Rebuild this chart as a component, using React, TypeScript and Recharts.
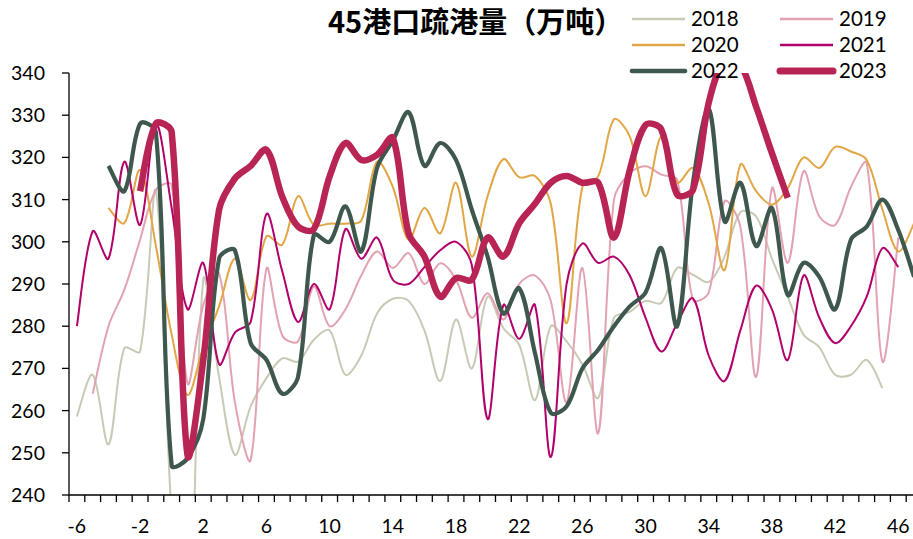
import { LineChart, Line, XAxis, YAxis } from "recharts";

// weeks relative to the holiday, category axis of the original chart
const weeks = [
  -6, -5, -4, -3, -2, -1, 0, 1, 2, 3, 4, 5, 6, 7, 8, 9, 10, 11, 12, 13, 14, 15, 16, 17, 18, 19, 20,
  21, 22, 23, 24, 25, 26, 27, 28, 29, 30, 31, 32, 33, 34, 35, 36, 37, 38, 39, 40, 41, 42, 43, 44, 45, 46, 47,
];
const xTickLabels = [-6, -2, 2, 6, 10, 14, 18, 22, 26, 30, 34, 38, 42, 46];
const yTicks = [240, 250, 260, 270, 280, 290, 300, 310, 320, 330, 340];

const start2018 = -6;
const values2018 = [
  258.6, 268.5, 252, 274.8, 274, 312, 235, 200, 291, 268, 249.5, 261, 267.7, 272.4, 271.6, 276.8, 279,
  268.5, 273, 283, 286.5, 286, 279, 267, 281.6, 270, 287, 279.5, 275.6, 262.5, 280, 276.4, 271, 263, 282,
  283.4, 286, 285.5, 293.8, 292.2, 290.5, 296.5, 307, 306, 296, 287, 278, 275, 268.5, 268.5, 272, 265.3,
];
const start2019 = -5;
const values2019 = [
  264, 280, 288.6, 300.5, 312.3, 313.5, 266.5, 285, 292.5, 262, 248.3, 293.6, 277.8, 276.4, 289.4, 280,
  284, 292, 297.7, 293.8, 297.3, 290, 294.9, 291, 282, 287.8, 281.6, 290, 292, 286, 262, 293.8, 254.6, 310,
  316.3, 317.9, 315.9, 314.7, 286.2, 288, 309.6, 303.6, 268, 312.7, 295, 316.7, 306, 304, 313, 318.7,
  271.6, 301,
];
const start2020 = -4;
const values2020 = [
  308, 304.4, 317, 299, 278, 263.7, 275, 284.7, 296, 286.2, 301.3, 299.3, 310.8, 304, 304.3, 304.3, 305,
  319, 313, 300.5, 308, 302, 314, 296.5, 310.8, 319.6, 315.3, 315.6, 309, 280.7, 313, 315.5, 329, 325,
  310.8, 325, 314, 317.5, 309, 293.3, 318.3, 312, 308.8, 312.7, 320, 317.5, 322.5, 321.4, 319.4, 307.6,
  297.7, 304.4,
];
const start2021 = -6;
const values2021 = [
  280, 302.5, 296, 319, 304, 328, 308, 284, 295, 271, 278.5, 281, 306.6, 293, 281, 290, 284, 303, 296,
  301, 291, 290, 294, 298, 300, 294.5, 258, 285, 277, 285, 249, 290, 299.6, 295, 296.5, 292, 282, 274,
  280.7, 286.6, 273, 267, 279, 289.6, 284, 272, 292, 282, 276, 280, 287, 298.5, 294,
];
const start2022 = -4;
const values2022 = [
  318, 312, 328, 326, 247, 248.7, 258, 296, 298, 276, 272, 264, 268, 301.6, 300, 308.4, 297.7, 317.5,
  324, 330.7, 318, 323.4, 319.4, 307.6, 296.5, 283, 289, 273.6, 259.5, 261, 270, 274.4, 280, 284.7, 288,
  298.5, 280, 314, 331.5, 304.8, 314, 299, 308, 287.4, 295, 291.7, 284, 300.5, 303.6, 310, 302.8, 291.7,
];
const start2023 = -2;
const values2023 = [
  312, 328, 326, 249.5, 272, 307.6, 315, 318, 321.8, 310.7, 303.6, 303, 315.5, 323.4, 319.4, 320.6,
  324.6, 302, 296.5, 287, 291.4, 291, 301, 296.5, 304.4, 309, 314, 315.6, 314, 314, 301, 317, 327.7,
  326.6, 311.2, 312.3, 333, 343, 342, 332, 321, 310.4,
];

const series = [
  { key: "y2018", name: "2018", start: start2018, values: values2018, color: "#C9C9B6", width: 2 },
  { key: "y2019", name: "2019", start: start2019, values: values2019, color: "#E2A2B2", width: 2 },
  { key: "y2020", name: "2020", start: start2020, values: values2020, color: "#E2A646", width: 2 },
  { key: "y2021", name: "2021", start: start2021, values: values2021, color: "#B1006B", width: 2 },
  { key: "y2022", name: "2022", start: start2022, values: values2022, color: "#3F584D", width: 4.2 },
  { key: "y2023", name: "2023", start: start2023, values: values2023, color: "#B82453", width: 6.5 },
];

const rows = weeks.map((w) => {
  const row: Record<string, number | null> = { week: w };
  series.forEach((s) => {
    const v = s.values[w - s.start];
    row[s.key] = v === undefined ? null : v;
  });
  return row;
});

// tick marks sit between categories, labels on the category itself
const boundaries = weeks.map((w) => w - 0.5).concat(weeks[weeks.length - 1] + 0.5);

const FONT = "Lato, 'Noto Sans', sans-serif";

// Excel-like smoothing: tangent through neighbours, arm lengths split by chord length
function smoothCurve(context: any) {
  let pts: number[][] = [];
  const dist = (a: number[], b: number[]) => Math.hypot(b[0] - a[0], b[1] - a[1]) || 1e-6;
  return {
    areaStart() {},
    areaEnd() {},
    lineStart() {
      pts = [];
    },
    lineEnd() {
      const n = pts.length;
      if (!n) return;
      context.moveTo(pts[0][0], pts[0][1]);
      if (n === 1) return;
      // forward/backward arm vectors for each point
      const fwd: number[][] = [];
      const back: number[][] = [];
      for (let i = 0; i < n; i++) {
        if (i === 0 || i === n - 1) {
          const a = pts[Math.max(i - 1, 0)];
          const b = pts[Math.min(i + 1, n - 1)];
          const v = [(b[0] - a[0]) / 6, (b[1] - a[1]) / 6];
          fwd.push(v);
          back.push(v);
          continue;
        }
        const p0 = pts[i - 1];
        const p1 = pts[i];
        const p2 = pts[i + 1];
        const l1 = dist(p0, p1);
        const l2 = dist(p1, p2);
        const dx = p2[0] - p0[0];
        const dy = p2[1] - p0[1];
        const kf = l2 / (l1 + l2) / 3;
        const kb = l1 / (l1 + l2) / 3;
        fwd.push([dx * kf, dy * kf]);
        back.push([dx * kb, dy * kb]);
      }
      for (let i = 0; i < n - 1; i++) {
        const p1 = pts[i];
        const p2 = pts[i + 1];
        context.bezierCurveTo(
          p1[0] + fwd[i][0],
          p1[1] + fwd[i][1],
          p2[0] - back[i + 1][0],
          p2[1] - back[i + 1][1],
          p2[0],
          p2[1]
        );
      }
    },
    point(x: number, y: number) {
      pts.push([x, y]);
    },
  };
}

function XTick(props: any) {
  const { x, y, payload } = props;
  const v = payload.value;
  if (!Number.isInteger(v)) {
    return <line x1={x} x2={x} y1={y} y2={y + 7} stroke="#000" strokeWidth={1.3} />;
  }
  return (
    <text x={x} y={y + 38} textAnchor="middle" fontSize={19.5} fontFamily={FONT} fill="#000">
      {v}
    </text>
  );
}

const legendCols = [632, 780];
const legendRows = [19, 45, 71];

export default function App() {
  return (
    <div style={{ position: "fixed", left: 0, top: 0, width: 913, height: 539, overflow: "hidden", background: "#fff" }}>
      <LineChart width={930} height={539} data={rows} margin={{ top: 73, right: 8, bottom: 0, left: 0 }}>
        <XAxis
          dataKey="week"
          type="number"
          domain={[-6.5, 47.5]}
          ticks={[...boundaries, ...xTickLabels]}
          interval={0}
          height={44}
          tickLine={false}
          tickSize={0}
          tickMargin={0}
          tick={XTick}
          axisLine={{ stroke: "#000", strokeWidth: 1.3 }}
        />
        <YAxis
          domain={[240, 340]}
          ticks={yTicks}
          allowDataOverflow
          interval={0}
          width={69}
          tickSize={7}
          tickMargin={17}
          axisLine={{ stroke: "#000", strokeWidth: 1.3 }}
          tickLine={{ stroke: "#000", strokeWidth: 1.3 }}
          tick={{ fill: "#000", fontSize: 19.5, fontFamily: FONT }}
        />
        {series.map((s) => (
          <Line
            key={s.key}
            dataKey={s.key}
            name={s.name}
            type={smoothCurve as any}
            stroke={s.color}
            strokeWidth={s.width}
            dot={false}
            activeDot={false}
            isAnimationActive={false}
          />
        ))}
      </LineChart>
      <svg width={913} height={90} style={{ position: "absolute", left: 0, top: 0 }}>
        <text x={328} y={33} fontSize={29} fontWeight="bold" fontFamily="'Noto Sans CJK SC', sans-serif" fill="#000">
          45港口疏港量（万吨）
        </text>
        {series.map((s, i) => {
          const lx = legendCols[i % 2];
          const ly = legendRows[Math.floor(i / 2)];
          return (
            <g key={s.key}>
              <line
                x1={lx}
                x2={lx + 53}
                y1={ly}
                y2={ly}
                stroke={s.color}
                strokeWidth={s.width + 0.5}
                strokeLinecap={s.width > 3 ? "round" : "butt"}
              />
              <text x={lx + 59} y={ly + 7} fontSize={20.5} fontFamily={FONT} fill="#000">
                {s.name}
              </text>
            </g>
          );
        })}
      </svg>
    </div>
  );
}
